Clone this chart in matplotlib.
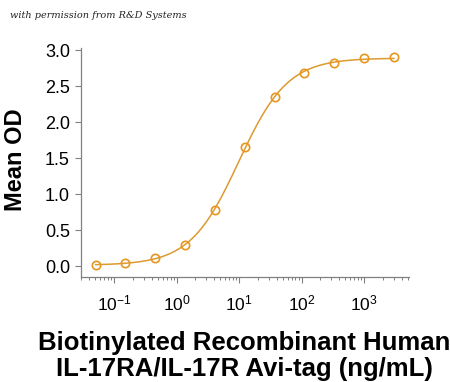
import numpy as np
import matplotlib
matplotlib.use("Agg")
import matplotlib.pyplot as plt
from matplotlib.ticker import LogLocator, FixedLocator, NullFormatter

plt.rcParams['font.family'] = ['Liberation Sans', 'DejaVu Sans']

# Data
conc = [0.0508, 0.152, 0.457, 1.37, 4.12, 12.3, 37.0, 111.0, 333.0, 1000.0, 3000.0]
mean_od = [0.02, 0.04, 0.115, 0.30, 0.78, 1.65, 2.35, 2.68, 2.82, 2.89, 2.90]
y_ticks = [0.0, 0.5, 1.0, 1.5, 2.0, 2.5, 3.0]
x_ticks = [0.1, 1, 10, 100, 1000]
x_label = "Biotinylated Recombinant Human\nIL-17RA/IL-17R Avi-tag (ng/mL)"
y_label = "Mean OD"
note = "with permission from R&D Systems"

x = np.array(conc)
y = np.array(mean_od)

# 4-parameter logistic fit (Gauss-Newton on data)
def f4(p, xx):
    a, d, lc, b = p
    return d + (a - d) / (1.0 + (xx / 10 ** lc) ** b)

p = np.array([y.min(), y.max(), 1.0, 1.3])
for _ in range(200):
    r = y - f4(p, x)
    J = np.zeros((len(x), 4))
    for k in range(4):
        dp = np.zeros(4); dp[k] = 1e-6
        J[:, k] = (f4(p + dp, x) - f4(p, x)) / 1e-6
    step, *_ = np.linalg.lstsq(J, r, rcond=None)
    p = p + 0.5 * step

xs = np.logspace(np.log10(x.min()), np.log10(x.max()), 400)
ys = f4(p, xs)

fig = plt.figure(figsize=(4.5, 3.82), dpi=100)
ax = fig.add_axes([81/450, 1 - 277/382, (409-81)/450, (277-48)/382])

orange = '#E8961E'
ax.plot(xs, ys, color='#DC9A30', lw=1.1, zorder=2)
ax.plot(x, y, 'o', ms=6, mfc='none', mec=orange, mew=1.2, zorder=3)

ax.set_xscale('log')
ax.set_xlim(10 ** -1.53, 10 ** 3.72)
ax.set_ylim(-0.15, 3.03)
ax.set_yticks(y_ticks)
ax.set_yticklabels([f"{v:.1f}" for v in y_ticks])
ax.xaxis.set_major_locator(FixedLocator(x_ticks))
ax.set_xticklabels([r"$\mathregular{10^{%d}}$" % int(np.log10(t)) for t in x_ticks])
ax.xaxis.set_minor_locator(LogLocator(base=10, subs=np.arange(2, 10), numticks=20))
ax.xaxis.set_minor_formatter(NullFormatter())

for s in ['top', 'right']:
    ax.spines[s].set_visible(False)
for s in ['left', 'bottom']:
    ax.spines[s].set_color('#808080')
    ax.spines[s].set_linewidth(0.9)

ax.tick_params(axis='y', which='major', length=4, width=0.8, color='#808080',
               labelsize=13, pad=4)
ax.tick_params(axis='x', which='major', length=4, width=0.8, color='#808080',
               labelsize=12.5, pad=8)
ax.tick_params(axis='x', which='minor', length=2.5, width=0.7, color='#808080')

fig.text(16/450, 1 - 160/382, y_label, rotation=90, ha='center', va='center',
         fontsize=17, fontweight='bold')
fig.text(244/450, 1 - 356/382, x_label, ha='center', va='center',
         fontsize=18.5, fontweight='bold', linespacing=1.07)

fig.text(10/450, 1 - 16/382, note, fontsize=7, style='italic',
         family=['DejaVu Serif'], ha='left', va='center', color='#222222')

fig.savefig('out.png', dpi=100)
